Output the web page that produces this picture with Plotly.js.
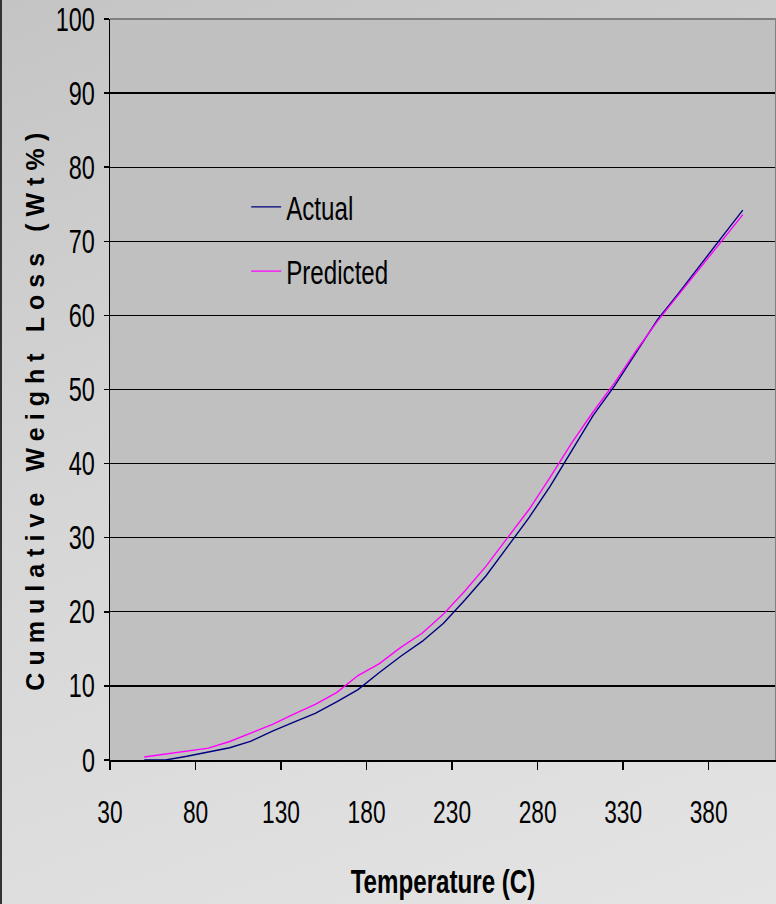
<!DOCTYPE html>
<html>
<head>
<meta charset="utf-8">
<script src="https://cdn.plot.ly/plotly-3.0.1.min.js"></script>
<style>
  html, body { margin: 0; padding: 0; width: 776px; height: 904px; overflow: hidden; }
  body { background: linear-gradient(160deg, #c4c4c4 0%, #d6d6d6 45%, #e4e4e4 100%); }
  #chart { width: 776px; height: 904px; box-shadow: inset 2px 0 0 #333; }
</style>
</head>
<body>
<div id="chart"></div>
<script>
// Temperature (C)
const temperature = [50, 62.5, 75, 87.5, 100, 112.5, 125, 137.5, 150, 162.5, 175, 187.5, 200, 212.5, 225,
  237.5, 250, 262.5, 275, 287.5, 300, 312.5, 325, 337.5, 350, 362.5, 375, 387.5, 400];
// Cumulative weight loss (wt%)
const actual = [0, 0, 0.5, 1.1, 1.65, 2.55, 3.9, 5.1, 6.3, 7.85, 9.5, 11.8, 14.0, 16.0, 18.45,
  21.6, 24.9, 28.8, 32.7, 37.0, 41.8, 46.5, 50.5, 55.0, 59.4, 63.0, 66.8, 70.5, 74.2];
const predicted = [0.4, 0.8, 1.2, 1.6, 2.5, 3.6, 4.8, 6.2, 7.5, 9.1, 11.4, 13.0, 15.2, 17.1, 19.7,
  22.8, 26.2, 30.0, 33.8, 38.2, 42.8, 47.0, 50.9, 55.2, 59.2, 62.8, 66.4, 70.0, 73.6];
const seriesNames = ["Actual", "Predicted"];
const xTickVals = [30, 80, 130, 180, 230, 280, 330, 380];
const yTickVals = [0, 10, 20, 30, 40, 50, 60, 70, 80, 90, 100];
const xTitle = "Temperature (C)";
const yTitle = "Cumulative Weight Loss (Wt%)";

const sans = "'Liberation Sans', Arial, sans-serif";

const traces = [
  { x: temperature, y: actual, name: seriesNames[0], type: "scatter", mode: "lines",
    line: { color: "#000080", width: 1.4 }, legendgroup: "a" },
  { x: temperature, y: predicted, name: seriesNames[1], type: "scatter", mode: "lines",
    line: { color: "#ff00ff", width: 1.4 }, legendgroup: "p" }
];

const layout = {
  width: 776, height: 904,
  margin: { l: 110, r: 0, t: 19, b: 144 },
  paper_bgcolor: "rgba(0,0,0,0)",
  plot_bgcolor: "#c0c0c0",
  font: { family: sans, color: "#000", size: 32 },
  showlegend: true,
  legend: {
    x: 0.2045, y: 0.785, xanchor: "left", yanchor: "top",
    bgcolor: "rgba(0,0,0,0)", borderwidth: 0,
    font: { family: sans, size: 34, color: "#000" },
    traceorder: "grouped", tracegroupgap: 17
  },
  xaxis: {
    range: [30, 419.4],
    tickmode: "array", tickvals: xTickVals, ticktext: xTickVals.map(String),
    ticks: "outside", ticklen: 8, tickcolor: "#000", tickwidth: 1.5,
    ticklabelstandoff: 15,
    showline: true, linecolor: "#000", linewidth: 1.5,
    showgrid: false, zeroline: false,
    tickfont: { family: sans, size: 32, color: "#000" },
    title: { text: xTitle, font: { family: sans, size: 34, color: "#000", weight: "bold" }, standoff: 40 },
    automargin: false
  },
  yaxis: {
    range: [0, 100],
    tickmode: "array", tickvals: yTickVals, ticktext: yTickVals.map(String),
    ticks: "outside", ticklen: 5, tickcolor: "#000", tickwidth: 1.5,
    ticklabelstandoff: 2,
    showline: true, linecolor: "#000", linewidth: 1.5,
    showgrid: true, gridcolor: "#000", gridwidth: 1.3, zeroline: false,
    tickfont: { family: sans, size: 33, color: "#000" },
    automargin: false
  },
  annotations: [
    { text: yTitle, xref: "paper", yref: "paper", x: 0, y: 0.475, xanchor: "center", yanchor: "middle",
      xshift: -75, textangle: -90, showarrow: false,
      font: { family: sans, size: 25, color: "#000", weight: "bold" } }
  ],
  shapes: [
    { type: "line", xref: "paper", yref: "paper", x0: 0, x1: 1, y0: 1, y1: 1,
      line: { color: "#808080", width: 2 }, layer: "above" },
    { type: "line", xref: "paper", yref: "paper", x0: 1, x1: 1, y0: 0, y1: 1,
      line: { color: "#808080", width: 2 }, layer: "above" }
  ]
};

function condense(gd) {
  const sel = gd.querySelectorAll(".xtick text, .ytick text, .legendtext, .xtitle");
  sel.forEach(el => {
    const w = el.getComputedTextLength();
    if (w > 0) {
      el.setAttribute("textLength", (w * 0.71).toFixed(1));
      el.setAttribute("lengthAdjust", "spacingAndGlyphs");
    }
  });
  const ann = gd.querySelector(".annotation-text");
  if (ann) {
    const w0 = ann.getComputedTextLength();
    const n = yTitle.length;
    const ls = (565 - w0) / n;
    ann.style.letterSpacing = ls.toFixed(2) + "px";
  }
}

Plotly.newPlot("chart", traces, layout, { displayModeBar: false, staticPlot: true })
  .then(gd => condense(gd));
</script>
</body>
</html>
